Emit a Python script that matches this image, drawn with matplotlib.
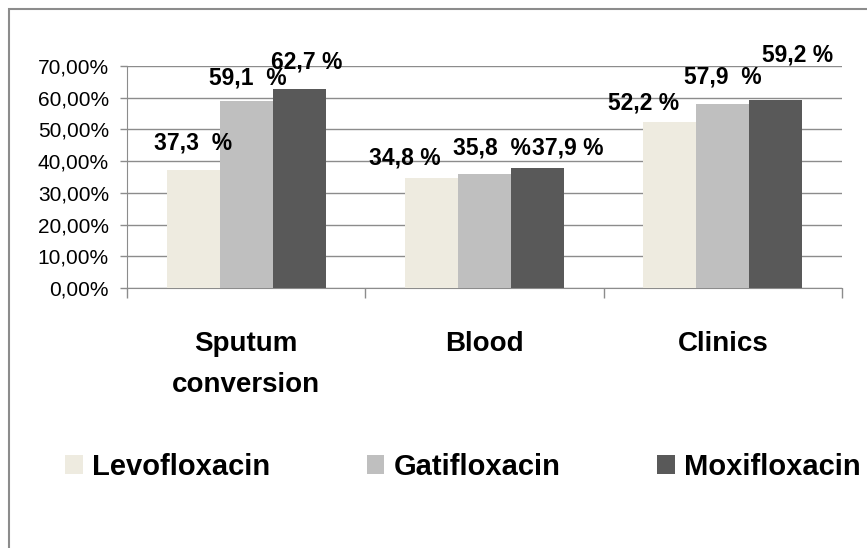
import matplotlib
matplotlib.use("Agg")
import numpy as np
from matplotlib import pyplot as plt
from matplotlib.patches import Rectangle
from matplotlib.ticker import FuncFormatter, MultipleLocator

plt.rcParams['font.family'] = ['Liberation Sans', 'DejaVu Sans']

# data
categories = ['Sputum\nconversion', 'Blood', 'Clinics']
drugs = ['Levofloxacin', 'Gatifloxacin', 'Moxifloxacin']
levofloxacin = [0.373, 0.348, 0.522]
gatifloxacin = [0.591, 0.358, 0.579]
moxifloxacin = [0.627, 0.379, 0.592]
value_labels = [['37,3  %', '34,8 %', '52,2 %'],
                ['59,1  %', '35,8  %', '57,9  %'],
                ['62,7 %', '37,9 %', '59,2 %']]

# hand placed label offsets (points), like the original
label_offsets = [[(0, 19.5), (-19, 14), (-18.5, 14)],
                 [(1, 16.5), (5.5, 19), (0, 20)],
                 [(5.5, 19.5), (22, 14.5), (15.5, 32.5)]]

colors = ['#EEEBE0', '#BFBFBF', '#595959']
grid_color = '#8C8C8C'

fig = plt.figure(figsize=(8.67, 5.48), dpi=100)
ax = fig.add_axes([127 / 867, 1 - 288 / 548, 715 / 867, 222 / 548])

x = np.arange(len(categories))
width = 0.2227
series = [levofloxacin, gatifloxacin, moxifloxacin]
for i in range(len(series)):
    bars = ax.bar(x + (i - 1) * width, series[i], width, color=colors[i],
                  label=drugs[i], zorder=3)
    for j, b in enumerate(bars):
        ax.annotate(value_labels[i][j], (b.get_x() + b.get_width() / 2, b.get_height()),
                    xytext=label_offsets[i][j], textcoords='offset points',
                    ha='center', va='center', fontsize=16.5, fontweight='bold',
                    zorder=5, annotation_clip=False)

ax.set_xlim(-0.5, 2.5)
ax.set_ylim(0, 0.7)
ax.yaxis.set_major_locator(MultipleLocator(0.1))
ax.yaxis.set_major_formatter(FuncFormatter(lambda v, p: ('%.2f%%' % (v * 100)).replace('.', ',')))
ax.grid(axis='y', color=grid_color, linewidth=1, zorder=0)
ax.tick_params(axis='y', length=5, width=1, color=grid_color, pad=8, labelsize=15)

ax.set_xticks(x, categories)
ax.set_xticks([-0.5, 0.5, 1.5, 2.5], minor=True)
ax.tick_params(axis='x', which='major', length=0, pad=31, labelsize=20)
ax.tick_params(axis='x', which='minor', length=7.5, width=1, color=grid_color)
for t in ax.get_xticklabels():
    t.set_fontweight('bold')
    t.set_linespacing(1.75)

for s in ['top', 'right']:
    ax.spines[s].set_visible(False)
ax.spines['left'].set_color(grid_color)
ax.spines['bottom'].set_color(grid_color)

leg = fig.legend(loc='center', bbox_to_anchor=(463 / 867, 1 - 467 / 548), ncol=3,
                 frameon=False, handlelength=0.6, handleheight=0.6,
                 handletextpad=0.33, columnspacing=3.3, borderpad=0,
                 prop={'size': 21, 'weight': 'bold'})

# outer chart frame (only left and top edges are visible)
fig.add_artist(Rectangle((9 / 867, -0.1), 1.2, 1.1 - 9 / 548, transform=fig.transFigure,
                         fill=False, edgecolor='#8C8C8C', linewidth=1.5))

plt.savefig('out.png', dpi=100)
